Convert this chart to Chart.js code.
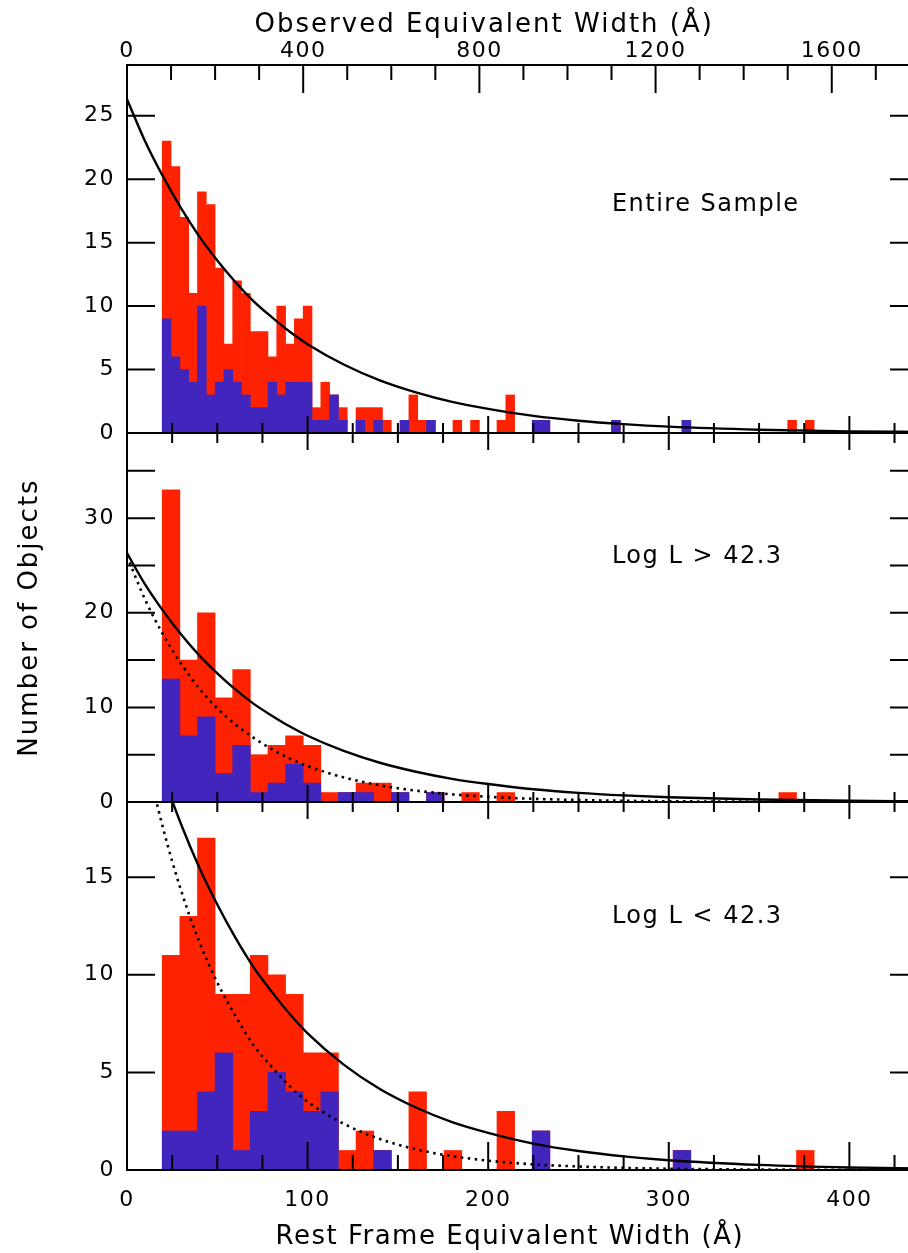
<!DOCTYPE html>
<html>
<head>
<meta charset="utf-8">
<script src="https://cdn.jsdelivr.net/npm/chart.js@4.4.1/dist/chart.umd.min.js"></script>
<style>
  html, body { margin: 0; padding: 0; background: #fff; overflow: hidden; }
  body { width: 908px; height: 1253px; position: relative; }
  canvas { position: absolute; left: 0; top: 0; }
</style>
</head>
<body>
<canvas id="top" width="930" height="1253"></canvas>
<canvas id="mid" width="930" height="1253"></canvas>
<canvas id="low" width="930" height="1253"></canvas>
<script>
// histogram bins are in the observed frame, starting at 80 A
const binStart = 80;
const topBinWidth = 20;
const wideBinWidth = 40;

// entire sample (red = all, blue = subset)
const topTotal = [23, 21, 17, 11, 19, 18, 13, 7, 12, 11, 8, 8, 6, 10, 7, 9, 10, 2, 4, 3,
  2, 0, 2, 2, 2, 1, 0, 1, 3, 1, 1, 0, 0, 1, 0, 1, 0, 0, 1, 3,
  0, 0, 1, 1, 0, 0, 0, 0, 0, 0, 0, 1, 0, 0, 0, 0, 0, 0, 0, 1,
  0, 0, 0, 0, 0, 0, 0, 0, 0, 0, 0, 1, 0, 1];
const topSub = [9, 6, 5, 4, 10, 3, 4, 5, 4, 3, 2, 2, 4, 3, 4, 4, 4, 1, 1, 3,
  1, 0, 1, 0, 1, 0, 0, 1, 0, 0, 1, 0, 0, 0, 0, 0, 0, 0, 0, 0,
  0, 0, 1, 1, 0, 0, 0, 0, 0, 0, 0, 1, 0, 0, 0, 0, 0, 0, 0, 1];

// Log L > 42.3
const midTotal = [33, 15, 20, 11, 14, 5, 6, 7, 6, 1, 1, 2, 2, 1, 0, 1, 0, 1, 0, 1,
  0, 0, 0, 0, 0, 0, 0, 0, 0, 0, 0, 0, 0, 0, 0, 1];
const midSub = [13, 7, 9, 3, 6, 1, 2, 4, 2, 0, 1, 1, 0, 1, 0, 1];

// Log L < 42.3
const lowTotal = [11, 13, 17, 9, 9, 11, 10, 9, 6, 6, 1, 2, 1, 0, 4, 0, 1, 0, 0, 3,
  0, 2, 0, 0, 0, 0, 0, 0, 0, 1, 0, 0, 0, 0, 0, 0, 1];
const lowSub = [2, 2, 4, 6, 1, 3, 5, 4, 3, 4, 0, 0, 1, 0, 0, 0, 0, 0, 0, 0,
  0, 2, 0, 0, 0, 0, 0, 0, 0, 1];

// fitted curves (rest frame EW)
const curveX = [0, 10, 20, 30, 40, 50, 60, 70, 80, 90, 100, 120, 140, 160, 180, 200, 225, 250, 275, 300, 350, 400, 440];
const fitAll = [26.3, 23.0, 20.2, 17.7, 15.5, 13.6, 11.9, 10.4, 9.15, 8.0, 7.0, 5.4, 4.15, 3.2, 2.45, 1.9, 1.35, 0.97, 0.7, 0.5, 0.26, 0.13, 0.08];
const fitHigh = [26.0, 21.4, 17.7, 14.6, 12.0, 9.9, 8.2, 6.8, 5.6, 4.6, 3.8, 2.6, 1.76, 1.2, 0.81, 0.55, 0.34, 0.21, 0.13, 0.08, 0.03, 0.01, 0.005];
const fitLow = [26.1, 21.4, 17.5, 14.3, 11.7, 9.6, 7.9, 6.4, 5.3, 4.3, 3.5, 2.37, 1.59, 1.06, 0.71, 0.48, 0.29, 0.18, 0.11, 0.065, 0.024, 0.009, 0.004];

const restMax = 438;
const obsPerRest = 4.1;
const obsMax = restMax * obsPerRest;

const red = "#ff2200";
const blue = "#4225bc";
const titleFont = "26px 'DejaVu Sans'";

Chart.defaults.font.family = "'DejaVu Sans', sans-serif";
Chart.defaults.color = "#000";

function bars(width, values) {
  return values.map((v, k) => ({ x: binStart + width * (k + 0.5), y: v || null }));
}
function curve(ys) {
  return curveX.map((x, i) => ({ x: x, y: ys[i] }));
}

function drawText(ctx, text, x, y, rot) {
  ctx.save();
  ctx.translate(x, y);
  if (rot) ctx.rotate(rot);
  ctx.fillText(text, 0, 0);
  ctx.restore();
}

// frame, inward ticks, panel label and axis titles
const frame = {
  id: "frame",
  beforeDraw(chart) {
    chart.ctx.letterSpacing = "1.5px";
  },
  afterDatasetsDraw(chart, args, opts) {
    const { ctx, chartArea: a, scales } = chart;
    const xr = scales.x, y = scales.y;
    ctx.save();
    ctx.strokeStyle = "#000";
    ctx.lineWidth = 2;
    ctx.beginPath();
    for (let v = 0; v <= y.max; v += opts.yStep) {
      const py = y.getPixelForValue(v);
      ctx.moveTo(a.left, py); ctx.lineTo(a.left + 28, py);
      ctx.moveTo(a.right, py); ctx.lineTo(a.right - 28, py);
    }
    for (let v = 25; v < xr.max; v += 25) {
      const px = xr.getPixelForValue(v);
      const len = v % 100 === 0 ? opts.bottomTick[1] : opts.bottomTick[0];
      ctx.moveTo(px, a.bottom); ctx.lineTo(px, a.bottom - len);
    }
    const xt = opts.topObs ? scales.xo : xr;
    const step = opts.topObs ? 100 : 25;
    const big = opts.topObs ? 400 : 100;
    for (let v = step; v < xt.max; v += step) {
      const px = xt.getPixelForValue(v);
      const len = v % big === 0 ? opts.topTick[1] : opts.topTick[0];
      ctx.moveTo(px, a.top); ctx.lineTo(px, a.top + len);
    }
    ctx.stroke();
    ctx.strokeRect(a.left, a.top, a.right - a.left, a.bottom - a.top);

    ctx.fillStyle = "#000";
    ctx.letterSpacing = "1.5px";
    ctx.font = "24px 'DejaVu Sans'";
    ctx.textAlign = "left";
    ctx.textBaseline = "middle";
    ctx.fillText(opts.label.text, xr.getPixelForValue(opts.label.x), y.getPixelForValue(opts.label.y));

    ctx.font = titleFont;
    ctx.letterSpacing = "2px";
    ctx.textAlign = "center";
    if (opts.topObs) {
      drawText(ctx, "Observed Equivalent Width (Å)", scales.xo.getPixelForValue(811), a.top - 40);
    }
    if (opts.bottomTitle) {
      ctx.letterSpacing = "1.5px";
      drawText(ctx, "Rest Frame Equivalent Width (Å)", xr.getPixelForValue(212), a.bottom + 67);
      ctx.letterSpacing = "2px";
    }
    if (opts.yTitle) {
      drawText(ctx, "Number of Objects", a.left - 97, (a.top + a.bottom) / 2, -Math.PI / 2);
    }
    ctx.restore();
  },
};

function makePanel(id, p) {
  const datasets = [
    {
      type: "line", data: curve(fitAll), xAxisID: "x", borderColor: "#000",
      borderWidth: 2.4, pointRadius: 0, cubicInterpolationMode: "monotone", order: 0,
    },
    {
      type: "bar", data: bars(p.binWidth, p.sub), xAxisID: "xo", backgroundColor: blue,
      borderWidth: 0, grouped: false, barPercentage: 1, categoryPercentage: 1, order: 2,
    },
    {
      type: "bar", data: bars(p.binWidth, p.total), xAxisID: "xo", backgroundColor: red,
      borderWidth: 0, grouped: false, barPercentage: 1, categoryPercentage: 1, order: 3,
    },
  ];
  if (p.dotted) {
    datasets.push({
      type: "line", data: curve(p.dotted), xAxisID: "x", borderColor: "#000",
      borderWidth: 2.6, borderDash: [2.5, 4.5], pointRadius: 0, cubicInterpolationMode: "monotone", order: 1,
    });
  }

  new Chart(document.getElementById(id), {
    type: "bar",
    data: { datasets },
    options: {
      responsive: false,
      animation: false,
      devicePixelRatio: 1,
      layout: { padding: { left: 0, right: 12, top: p.padTop, bottom: p.padBottom } },
      plugins: {
        legend: { display: false },
        tooltip: { enabled: false },
        frame: {
          yStep: 5, topObs: p.topAxis, bottomTitle: p.bottomAxis, yTitle: p.yTitle, label: p.label,
          topTick: p.topAxis ? [15, 28] : [10, 17],
          bottomTick: p.bottomAxis ? [15, 28] : [10, 17],
        },
      },
      scales: {
        xo: {
          type: "linear", position: "top", min: 0, max: obsMax, offset: false,
          display: p.topAxis,
          grid: { display: false, drawTicks: false },
          border: { display: false },
          ticks: {
            stepSize: 400, padding: 1, maxRotation: 0, includeBounds: false,
            font: { size: 22 }, callback: (v) => String(v),
          },
          afterFit: (s) => { s.height = p.topAxis ? 65 : 0; },
        },
        x: {
          type: "linear", position: "bottom", min: 0, max: restMax, offset: false,
          display: p.bottomAxis,
          grid: { display: false, drawTicks: false },
          border: { display: false },
          ticks: {
            stepSize: 100, padding: 17, maxRotation: 0, includeBounds: false,
            font: { size: 22 }, callback: (v) => String(v),
          },
          afterFit: (s) => { s.height = p.bottomAxis ? 83 : 0; },
        },
        y: {
          type: "linear", min: 0, max: p.yMax, stacked: false,
          grid: { display: false, drawTicks: false },
          border: { display: false },
          ticks: {
            stepSize: p.yLabelStep, padding: 12, includeBounds: false,
            font: { size: 22 }, callback: (v) => String(v),
          },
          afterFit: (s) => { s.width = 127; },
        },
      },
    },
    plugins: [frame],
  });
}

makePanel("top", {
  total: topTotal, sub: topSub, binWidth: topBinWidth, yMax: 29, yLabelStep: 5,
  padTop: 0, padBottom: 820, topAxis: true, bottomAxis: false, yTitle: false,
  label: { text: "Entire Sample", x: 268.5, y: 18 },
});
makePanel("mid", {
  total: midTotal, sub: midSub, binWidth: wideBinWidth, yMax: 39, yLabelStep: 10, dotted: fitHigh,
  padTop: 433, padBottom: 451, topAxis: false, bottomAxis: false, yTitle: true,
  label: { text: "Log L > 42.3", x: 268.5, y: 25.9 },
});
makePanel("low", {
  total: lowTotal, sub: lowSub, binWidth: wideBinWidth, yMax: 18.85, yLabelStep: 5, dotted: fitLow,
  padTop: 802, padBottom: 0, topAxis: false, bottomAxis: true, yTitle: false,
  label: { text: "Log L < 42.3", x: 268.5, y: 12.95 },
});
</script>
</body>
</html>
